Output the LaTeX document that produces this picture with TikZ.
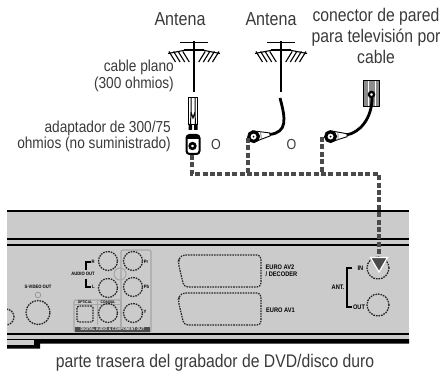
\documentclass[tikz,border=0pt]{standalone}
\usepackage{fontspec}
\setmainfont{Liberation Sans}
\newfontfamily\narrowf[FakeStretch=0.86]{Liberation Sans}
\usetikzlibrary{calc}
\definecolor{panelgrey}{HTML}{CBCBCB}
\definecolor{txt}{HTML}{3A3A3A}
\definecolor{dashgrey}{HTML}{4A4A4A}
\newcommand{\fs}[1]{\fontsize{#1}{#1}\selectfont\narrowf}
\tikzset{
  lab/.style={text=txt,inner sep=0pt,align=center,font=\fs{18.3}},
  slab/.style={text=txt,inner sep=0pt,align=right,anchor=east,font=\fs{15.9}},
  tiny/.style={text=black,inner sep=0pt,font=\fontsize{6.6}{7.4}\selectfont\bfseries\narrowf},
  vtiny/.style={text=black,inner sep=0pt,font=\fontsize{4.8}{5}\selectfont\bfseries\narrowf},
  jack/.style={circle,draw=black!85,dash pattern=on 1.6pt off 1pt,line width=1.3pt,minimum size=#1,inner sep=0pt},
  sig/.style={draw=dashgrey,line width=3.1pt,dash pattern=on 5pt off 2.4pt},
  ant/.style={draw=black,line width=1.1pt},
  pics/aerial/.style={code={
    \draw[ant,line width=2.4pt] (0,0) -- (0,51);
    \draw[ant] (-14,1.5) -- (14,1.5);
    \draw[ant] (-10,9) -- (10,9);
    \foreach \i in {0,1,2,3}{
      \draw[ant] ({-25+\i*4.6},10.5) -- ({-18.5+\i*4.6},21);
      \draw[ant] ({25-\i*4.6},10.5) -- ({18.5-\i*4.6},21);
    }
    \draw[ant] (-26,12.5) -- (-8,9) (26,12.5) -- (8,9);
  }},
  pics/plug/.style={code={
    \fill[white,draw=black,line width=0.9pt] (0,-5) -- (15,-1.5) -- (15,1.5) -- (0,5.5) -- cycle;
    \draw[black!60,line width=0.7pt] (3,-4.3) -- (3,4.8) (6,-3.6) -- (6,4.2);
    \draw[black,line width=3.2pt,fill=white] (-1.5,0.5) circle (4.8);
    \fill[black] (-1.5,0.5) circle (1);
  }}
}
\begin{document}
\begin{tikzpicture}[x=1pt,y=-1pt]
\useasboundingbox (0,0) rectangle (442,374);
% panel
\fill[panelgrey] (7,211) rectangle (409,343);
\draw[black,line width=2.6pt] (7,211) -- (409,211);
\draw[black,line width=1.7pt] (7,239) -- (409,239);
\draw[black,line width=1.7pt] (7,245) -- (409,245);
\draw[black,line width=1.7pt] (7,334) -- (409,334);
\fill[black] (7,339) -- (409,339) -- (409,343.5) -- (40,343.5) -- (40,348.5) -- (7,348.5) -- cycle;
\fill[panelgrey] (7,340) rectangle (34,344.5);
% audio group frames
\draw[black!35,line width=1.2pt,rounded corners=2pt] (121,250) rectangle (151,332);
\draw[black!35,line width=1.2pt,rounded corners=2pt] (74,300) rectangle (121,332);
\draw[black!35,line width=0.8pt] (74,304.5) -- (121,304.5) (97,300) -- (97,325);
\node[draw=black!35,line width=1pt,circle,minimum size=12pt,inner sep=0pt] (centrering) at (120,274) {};
\node[jack=19pt] (audr) at (108,261) {};
\node[jack=19pt] (audl) at (108,288) {};
\node[jack=19pt] (pr) at (133,261) {};
\node[jack=19pt] (pb) at (133,287) {};
\node[jack=19pt] (yy) at (133,313) {};
\node[jack=19pt] (coax) at (108,313) {};
\node[jack=16pt,rectangle,rounded corners=1.5pt] (opt) at (85,314) {};
\node[jack=24pt] (svid) at (38,312.5) {};
\node[draw=black!40,line width=0.8pt,circle,minimum size=5.5pt,inner sep=0pt] (led) at (38,295) {};
\begin{scope}
\clip (7,300) rectangle (20,330);
\node[jack=16pt] (partial) at (6,317) {};
\end{scope}
% tiny labels
\node[vtiny] (svlab) at (38,287) {S-VIDEO OUT};
\node[vtiny] (audlab) at (83,274) {AUDIO OUT};
\draw[black,line width=1.2pt] (91,262) -- (86,262) -- (86,270) (86,279) -- (86,287) -- (91,287);
\node[vtiny] at (93,261.5) {R};
\node[vtiny] at (93.5,286.5) {L};
\node[vtiny] at (146,261.5) {Pr};
\node[vtiny] at (146.5,287) {Pb};
\node[vtiny] at (145,312) {Y};
\node[vtiny,font=\fontsize{3.8}{4}\selectfont\bfseries\narrowf] at (85,301.8) {OPTICAL};
\node[vtiny,font=\fontsize{3.8}{4}\selectfont\bfseries\narrowf] at (108,301.8) {COAXIAL};
\node[fill=black!70,text=white,inner sep=0pt,minimum width=75pt,minimum height=5pt,font=\fontsize{4.2}{4.2}\selectfont\bfseries\narrowf] (dbar) at (112.5,329) {DIGITAL AUDIO \& COMPONENT OUT};
% euro connectors
\draw[black!85,line width=1.2pt,dash pattern=on 1.6pt off 1pt,rounded corners=4pt] (178,262) -- (181,255) -- (261,255) -- (261,287) -- (184,287) -- cycle;
\draw[black!85,line width=1.2pt,dash pattern=on 1.6pt off 1pt,rounded corners=4pt] (178,300) -- (181,293) -- (261,293) -- (261,325) -- (184,325) -- cycle;
\node[tiny,align=left,anchor=west] (eu2) at (265.5,271) {EURO AV2\\/ DECODER};
\node[tiny,anchor=west] (eu1) at (266,310) {EURO AV1};
% ANT
\node[jack=22pt] (injack) at (378,268) {};
\node[jack=22pt] (outjack) at (378,305) {};
\node[tiny] (antlab) at (338,287) {ANT.};
\node[tiny] (inlab) at (360.5,268) {IN};
\node[tiny] (outlab) at (359,307) {OUT};
\draw[black,line width=1.2pt] (352,268) -- (347,268) -- (347,307) -- (352,307);
% text
\node[lab,font=\fs{18.7}] (a1) at (180,19) {Antena};
\node[lab,font=\fs{18.7}] (a2) at (271,19) {Antena};
\node[lab] (wall) at (376,36) {conector de pared\\[2.6pt]para televisión por\\[2.6pt]cable};
\node[slab] (flat) at (174,76) {cable plano\\[0.8pt](300 ohmios)};
\node[slab] (adlab) at (171,136.5) {adaptador de 300/75\\[0.8pt]ohmios (no suministrado)};
\node[lab,font=\fs{14.5}] (o1) at (216,145) {O};
\node[lab,font=\fs{14.5}] (o2) at (291.5,145) {O};
\node[lab] (cap) at (215,363) {parte trasera del grabador de DVD/disco duro};
% aerials
\pic at (194,41) {aerial};
\pic at (281,41) {aerial};
% twin lead & adapter
\draw[black,line width=1pt,fill=white] (188.5,97.5) -- (197.5,97.5) -- (197.5,125) -- (188.5,125) -- cycle;
\draw[black,line width=1pt] (191,97.5) -- (191,112) -- (190.5,125) (195,97.5) -- (195,112) -- (195.5,125) (191,112) -- (193,118) -- (195,112);
\fill[black] (188.5,124) rectangle (192,130) (194,124) rectangle (197.5,130);
\node[draw=black,line width=2pt,fill=white,rounded corners=3pt,minimum width=13pt,minimum height=19pt,inner sep=0pt] (adapter) at (193,144.5) {};
\fill[black] (187,135) rectangle (199,139.5);
\draw[black,line width=2.6pt,fill=white] (192.5,146) circle (2.8);
% cables
\coordinate (c2a) at (280,98);
\coordinate (c2b) at (270,134.5);
\draw[black,line width=2.8pt] (c2a) .. controls (286,120) and (287,132) .. (c2b);
\pic[rotate=6] at (255,136) {plug};
% wall plate
\node[draw=black,line width=1.8pt,fill=black!45,minimum width=16pt,minimum height=26pt,inner sep=0pt] (plate) at (371.5,93.5) {};
\draw[white,line width=0.8pt] (368,81) -- (368,106) (375,81) -- (375,106);
\draw[black,line width=2.2pt,fill=white] (371.5,94.5) circle (2.6);
\coordinate (c3b) at (346,135);
\draw[black,line width=2.8pt] (372,98) .. controls (372,118) and (360,133) .. (c3b);
\pic[rotate=3] at (332,136) {plug};
% signal lines
\coordinate (jn1) at (192,174);
\coordinate (jn2) at (248,174);
\coordinate (jn3) at (322,174);
\coordinate (corner) at (379,174);
\draw[sig] (adapter.south -| jn1) -- (jn1) -- (jn2) -- (jn3) -- (corner) -- (379,260);
\draw[sig] (248,138) -- (jn2);
\draw[sig] (322,137) -- (jn3);
\fill[dashgrey,draw=white,line width=1.2pt,line join=miter] (370.5,257.5) -- (387.5,257.5) -- (379,272) -- cycle;
\end{tikzpicture}
\end{document}
